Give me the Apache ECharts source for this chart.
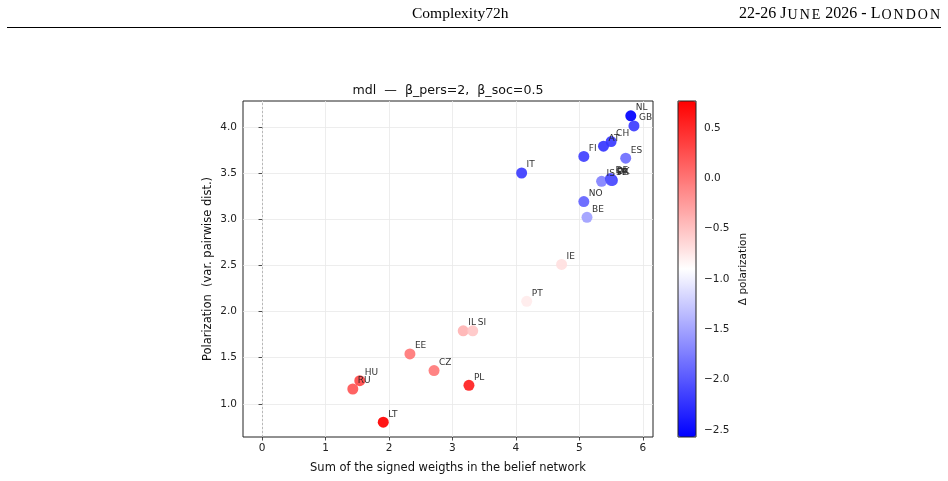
<!DOCTYPE html>
<html>
<head>
<meta charset="utf-8">
<script src="https://cdn.jsdelivr.net/npm/echarts@6/dist/echarts.min.js"></script>
<style>
html,body{margin:0;padding:0;background:#fff;}
#chart{width:948px;height:481px;}
</style>
</head>
<body>
<div id="chart"></div>
<script>
// ---- data ----
var countries = ['NL','GB','CH','AT','FI','ES','IT','IS','DE','DK','FR','SE','NO','BE','IE','PT','IL','SI','EE','CZ','HU','RU','PL','LT'];
var sumWeights = [5.81,5.86,5.50,5.38,5.07,5.73,4.09,5.35,5.49,5.51,5.52,5.50,5.07,5.12,4.72,4.17,3.17,3.32,2.33,2.71,1.54,1.43,3.26,1.91];
var polarization = [4.12,4.01,3.84,3.79,3.68,3.66,3.50,3.41,3.44,3.43,3.42,3.42,3.19,3.02,2.51,2.11,1.79,1.79,1.54,1.36,1.25,1.16,1.20,0.80];
var deltaPol = [-2.57,-2.17,-2.2,-2.22,-2.15,-1.85,-2.17,-1.72,-2.1,-2.05,-2.1,-2.0,-1.92,-1.53,-0.70,-0.77,-0.40,-0.53,-0.01,-0.03,0.30,0.21,0.57,0.77];
var xTicks = [0,1,2,3,4,5,6];
var yTicks = [1.0,1.5,2.0,2.5,3.0,3.5,4.0];
var cbTicks = [-2.5,-2.0,-1.5,-1.0,-0.5,0.0,0.5];
var deltaMin = -2.57, deltaMax = 0.77;

var points = countries.map(function(c,i){ return [sumWeights[i], polarization[i], deltaPol[i], c]; });

var FONT = 'DejaVu Sans';
var chart = echarts.init(document.getElementById('chart'), null, {renderer:'canvas'});
function fmt(v){ return v.toFixed(1).replace('-', '\u2212'); }

chart.setOption({
  animation: false,
  backgroundColor: '#fff',
  title: [
    {text: 'Complexity72h', left: 412, top: 6, padding: 0,
     textStyle:{fontFamily:'Liberation Serif', fontSize:15.5, fontWeight:'normal', color:'#000'}},
    {text: '{a|22-26 J}{b|U}{b|N}{b|E}{a| 2026 - L}{b|O}{b|N}{b|D}{b|O}{b|N}', right: 8, top: 6, padding: 0,
     textStyle:{fontWeight:'normal', rich:{
       a:{fontFamily:'Liberation Serif', fontSize:16, fontWeight:'normal', color:'#000'},
       b:{fontFamily:'Liberation Serif', fontSize:14, fontWeight:'normal', color:'#000', verticalAlign:'bottom', padding:[0,1,0,1]}}}},
    {text: 'mdl  \u2014  \u03b2_pers=2,  \u03b2_soc=0.5', left: 448, textAlign:'center', top: 84, padding: 0,
     textStyle:{fontFamily:FONT, fontSize:12.6, fontWeight:'normal', color:'#111'}}
  ],
  graphic: [
    {type:'line', shape:{x1:7, y1:27.5, x2:941, y2:27.5}, style:{stroke:'#000', lineWidth:1}}
  ],
  grid: [
    {left:243, top:101, width:410, height:336, show:true, borderColor:'#222', borderWidth:1, backgroundColor:'transparent', containLabel:false},
    {left:678, top:101, width:18, height:336, show:true, borderColor:'#222', borderWidth:1, backgroundColor:'transparent', z:10}
  ],
  xAxis: [
    {type:'value', gridIndex:0, min:-0.3, max:6.16,
     name:'Sum of the signed weigths in the belief network', nameLocation:'middle', nameGap:25,
     nameTextStyle:{fontFamily:FONT, fontSize:11.5, color:'#111'},
     axisLine:{show:false},
     axisTick:{show:true, inside:false, length:3.5, lineStyle:{color:'#222', width:0.8}, customValues:xTicks},
     axisLabel:{fontFamily:FONT, fontSize:10.5, color:'#222', margin:6, customValues:xTicks, formatter:function(v){return String(v);}},
     splitLine:{show:true, lineStyle:{color:'#e8e8e8', width:0.8}}},
    {type:'value', gridIndex:1, min:0, max:1, show:false}
  ],
  yAxis: [
    {type:'value', gridIndex:0, min:0.64, max:4.28,
     name:'Polarization  (var. pairwise dist.)', nameLocation:'middle', nameGap:29, nameRotate:90,
     nameTextStyle:{fontFamily:FONT, fontSize:11.5, color:'#111'},
     axisLine:{show:false},
     axisTick:{show:true, inside:false, length:3.5, lineStyle:{color:'#222', width:0.8}, customValues:yTicks},
     axisLabel:{fontFamily:FONT, fontSize:10.5, color:'#222', margin:6, customValues:yTicks, formatter:function(v){return v.toFixed(1);}},
     splitLine:{show:true, lineStyle:{color:'#e8e8e8', width:0.8}}},
    {type:'value', gridIndex:1, min:deltaMin, max:deltaMax, position:'right',
     name:'\u0394 polarization', nameLocation:'middle', nameGap:42, nameRotate:90,
     nameTextStyle:{fontFamily:FONT, fontSize:10.5, color:'#111'},
     axisLine:{show:false},
     axisTick:{show:true, inside:false, length:3.5, lineStyle:{color:'#222', width:0.8}, customValues:cbTicks},
     axisLabel:{fontFamily:FONT, fontSize:10.5, color:'#222', margin:8, customValues:cbTicks, formatter:fmt},
     splitLine:{show:false}}
  ],
  visualMap: {
    type:'continuous', seriesIndex:0, dimension:2, min:deltaMin, max:deltaMax,
    calculable:false, hoverLink:false, realtime:false,
    orient:'vertical', left:678, top:101, padding:0, itemWidth:18, itemHeight:336,
    text:null, showLabel:false,
    inRange:{color:['#0000ff','#ffffff','#ff0000']}
  },
  series: [
    {type:'scatter', xAxisIndex:0, yAxisIndex:0, data:points, symbolSize:11,
     itemStyle:{opacity:0.92},
     label:{show:true, position:[10.5,2], align:'left', verticalAlign:'bottom',
            fontFamily:FONT, fontSize:9, color:'#222', formatter:function(p){return p.data[3];}},
     labelLayout:{hideOverlap:false},
     markLine:{silent:true, symbol:'none', label:{show:false},
               lineStyle:{color:'#aaa', type:[2,2], width:0.8},
               data:[{xAxis:0}]},
     z:3}
  ]
});
</script>
</body>
</html>
